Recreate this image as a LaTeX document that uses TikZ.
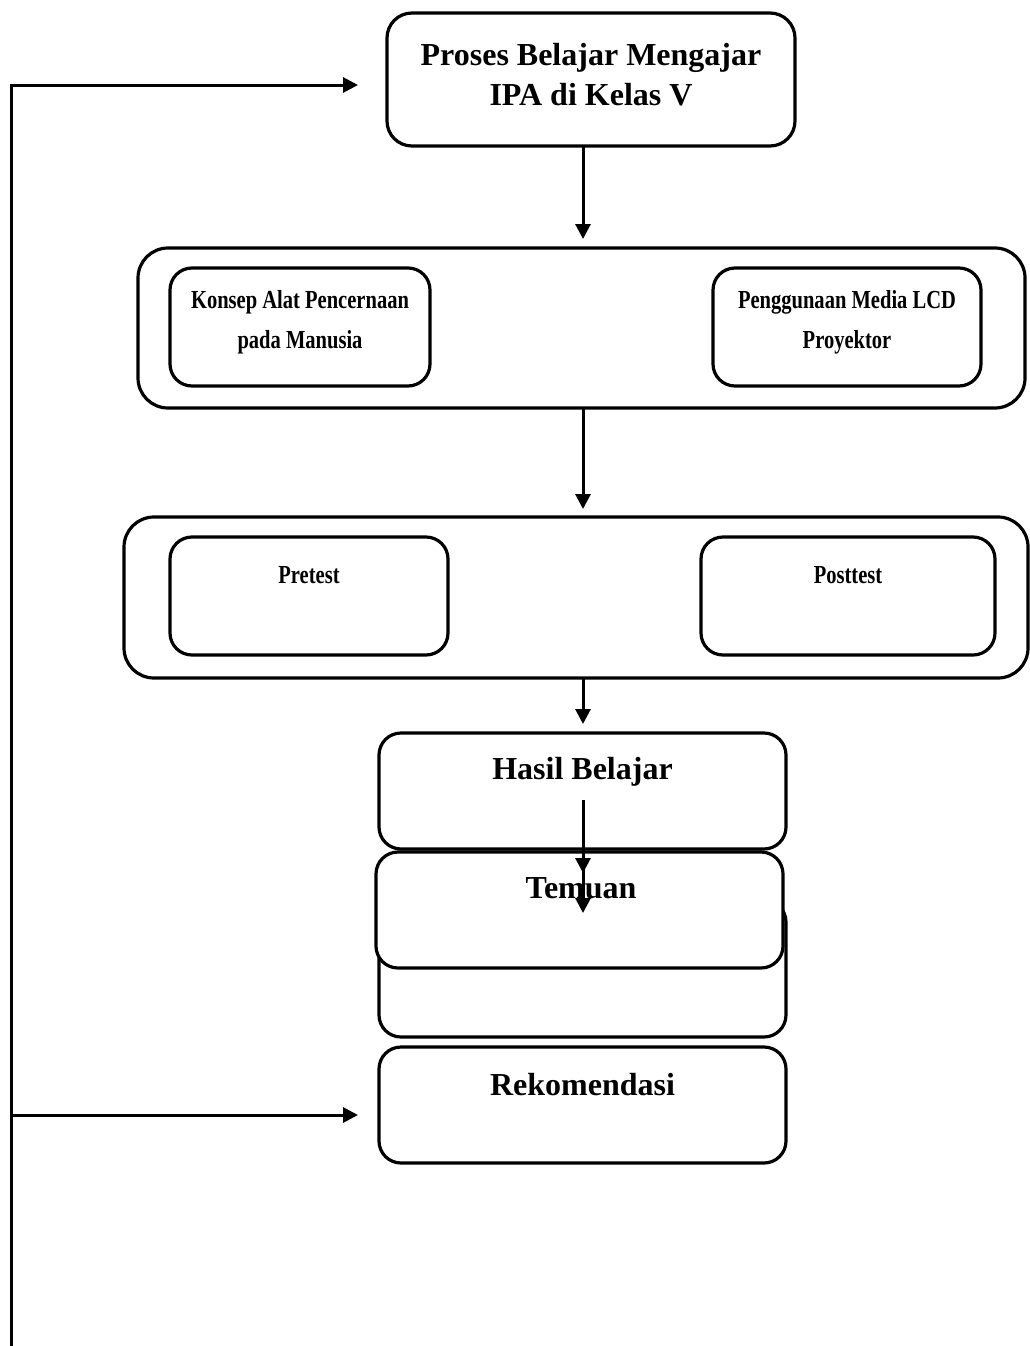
\documentclass[tikz,border=0pt]{standalone}
\usepackage{fontspec}
\setmainfont{Liberation Serif}
\newfontfamily\condfont[FakeStretch=0.79]{Liberation Serif}
\usetikzlibrary{arrows.meta}
\begin{document}
\begin{tikzpicture}[x=1pt,y=-1pt,
  box/.style={draw,line width=3.2pt,rounded corners=22pt,fill=white,inner sep=0pt},
  bigbox/.style={draw,line width=3.2pt,rounded corners=30pt,inner sep=0pt},
  bigtxt/.style={font=\fontsize{32}{40}\selectfont\bfseries,align=center,inner sep=0pt},
  smalltxt/.style={font=\fontsize{26}{40}\selectfont\condfont\bfseries,align=center,inner sep=0pt},
  conn/.style={line width=3pt,-{Triangle[length=15pt,width=15pt]}},
  plain/.style={line width=3pt}]
\useasboundingbox (0,0) rectangle (1030,1346);
% top box
\node[box,rounded corners=25pt,minimum width=408pt,minimum height=133pt] (top) at (591,79.5) {};
\node[bigtxt] (toptxt) at (591,75) {Proses Belajar Mengajar\\IPA di Kelas V};
% group 1
\node[bigbox,minimum width=887pt,minimum height=160pt] (g1) at (581.5,328) {};
\node[box,minimum width=260pt,minimum height=118pt] (konsep) at (300,327) {};
\node[smalltxt] (konseptxt) at (300,322) {Konsep Alat Pencernaan\\pada Manusia};
\node[box,minimum width=268pt,minimum height=118pt] (media) at (847,327) {};
\node[smalltxt] (mediatxt) at (847,322) {Penggunaan Media LCD\\Proyektor};
% group 2
\node[bigbox,minimum width=904pt,minimum height=161pt] (g2) at (576,597.5) {};
\node[box,minimum width=278pt,minimum height=118pt] (pre) at (309,596) {};
\node[smalltxt] (pretxt) at (309,575) {Pretest};
\node[box,minimum width=294pt,minimum height=118pt] (post) at (848,596) {};
\node[smalltxt] (posttxt) at (848,575) {Posttest};
% hasil belajar
\node[box,minimum width=407pt,minimum height=116pt] (hasil) at (582.5,791) {};
\node[bigtxt] (hasiltxt) at (582.5,772) {Hasil Belajar};
% box behind temuan
\node[box,minimum width=407pt,minimum height=137pt] (behind) at (582.5,968.5) {};
% temuan
\node[box,minimum width=407pt,minimum height=116pt] (temuan) at (579.5,910) {};
\node[bigtxt] (temuantxt) at (581,888) {Temuan};
% rekomendasi
\node[box,minimum width=407pt,minimum height=116pt] (rekom) at (582.5,1105) {};
\node[bigtxt] (rekomtxt) at (582.5,1085) {Rekomendasi};
% connectors
\coordinate (a1s) at (583,146);
\coordinate (a1e) at (583,239);
\draw[conn] (a1s) -- (a1e);
\coordinate (a2s) at (583,408);
\coordinate (a2e) at (583,509);
\draw[conn] (a2s) -- (a2e);
\coordinate (a3s) at (583,678);
\coordinate (a3e) at (583,724);
\draw[conn] (a3s) -- (a3e);
\coordinate (a4s) at (583,800);
\coordinate (a4m) at (583,873);
\coordinate (a4n) at (583,860);
\coordinate (a4e) at (583,913);
\draw[conn] (a4s) -- (a4m);
\draw[conn] (a4n) -- (a4e);
% feedback line
\coordinate (fbBottom) at (11,1346);
\coordinate (fbTopCorner) at (11,85);
\coordinate (fbTop) at (358,85);
\coordinate (fbMid) at (11,1115);
\coordinate (fbRek) at (358,1115);
\draw[plain] (fbBottom) -- (fbTopCorner.center);
\draw[conn] ([xshift=-1.5pt]fbTopCorner) -- (fbTop);
\draw[conn] (fbMid) -- (fbRek);
\end{tikzpicture}
\end{document}
